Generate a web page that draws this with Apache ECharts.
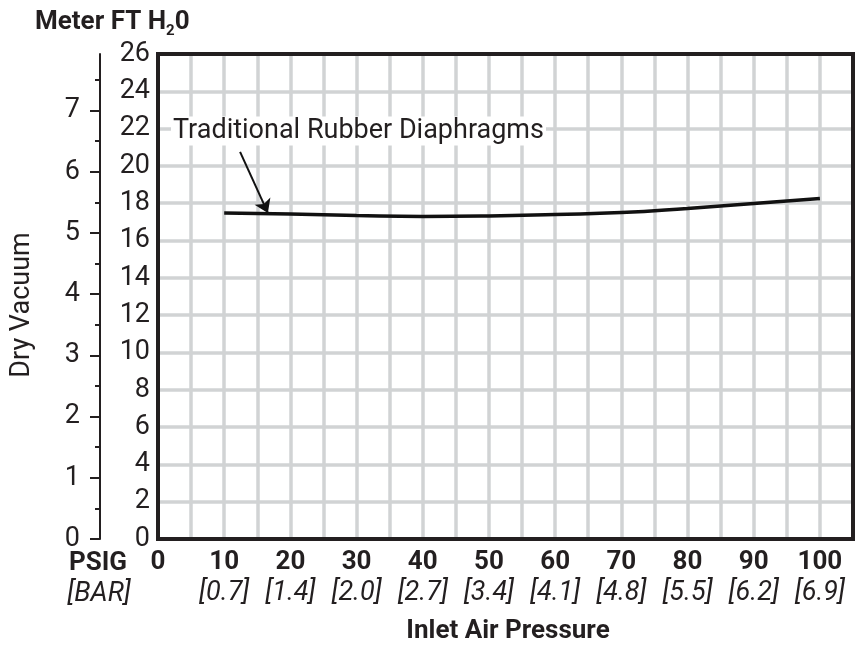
<!DOCTYPE html>
<html>
<head>
<meta charset="utf-8">
<script src="https://cdn.jsdelivr.net/npm/echarts@6/dist/echarts.min.js"></script>
<style>
html,body{margin:0;padding:0;background:#fff;}
#chart{width:865px;height:645px;}
</style>
</head>
<body>
<div id="chart"></div>
<script>
// ---- data ----
const psigValues = [10, 20, 30, 40, 50, 60, 70, 80, 90, 100];
const dryVacuumFt = [17.48, 17.42, 17.34, 17.29, 17.32, 17.40, 17.50, 17.72, 17.98, 18.25];
const psigTicks = [0, 10, 20, 30, 40, 50, 60, 70, 80, 90, 100];
const barTicks = ['', '[0.7]', '[1.4]', '[2.0]', '[2.7]', '[3.4]', '[4.1]', '[4.8]', '[5.5]', '[6.2]', '[6.9]'];
const ftMin = 0, ftMax = 26, ftStep = 2;
const psigMin = 0, psigMax = 105, psigStep = 5;
const meterMajorTicks = [0, 1, 2, 3, 4, 5, 6, 7];
const meterMinorTicks = [0.5, 1.5, 2.5, 3.5, 4.5, 5.5, 6.5, 7.5];
const meterMax = ftMax * 0.3048;
const seriesName = 'Traditional Rubber Diaphragms';
const arrowFrom = [12.4, 20.75];
const arrowTo = [16.6, 17.48];

// ---- style ----
const FONT = 'Roboto, "DejaVu Sans Condensed", sans-serif';
const INK = '#231f20';
const GRIDC = '#d1d3d4';
const G = {left: 158, top: 54, width: 695, height: 485};

const chart = echarts.init(document.getElementById('chart'), null, {renderer: 'canvas'});

const grids = [0, 1, 2].map(i => Object.assign({
  show: i === 0, z: 10, borderColor: INK, borderWidth: 4,
  backgroundColor: 'transparent', containLabel: false, outerBoundsMode: 'none'
}, G));

const hiddenX = gi => ({gridIndex: gi, type: 'value', min: psigMin, max: psigMax, show: false});

const option = {
  animation: false,
  backgroundColor: '#fff',
  textStyle: {fontFamily: FONT, color: INK},
  grid: grids,
  xAxis: [
    {
      gridIndex: 0, type: 'value', min: psigMin, max: psigMax, interval: psigStep,
      axisLine: {show: false}, axisTick: {show: false},
      splitLine: {show: true, showMinLine: false, showMaxLine: false, lineStyle: {color: GRIDC, width: 3.5}},
      axisLabel: {
        show: true, margin: 8, hideOverlap: false, showMinLabel: true, showMaxLabel: true,
        formatter: v => {
          const i = psigTicks.indexOf(v);
          if (i < 0) return '';
          return '{a|' + v + '}\n{b|' + (barTicks[i] || ' ') + '}';
        },
        rich: {
          a: {fontFamily: FONT, fontWeight: 'bold', fontSize: 26, lineHeight: 31, color: INK},
          b: {fontFamily: FONT, fontStyle: 'italic', fontSize: 27, lineHeight: 31, color: INK}
        }
      }
    },
    hiddenX(1), hiddenX(2)
  ],
  yAxis: [
    {
      gridIndex: 0, type: 'value', min: ftMin, max: ftMax, interval: ftStep, position: 'left',
      axisLine: {show: false, onZero: false}, axisTick: {show: false},
      splitLine: {show: true, showMinLine: false, showMaxLine: false, lineStyle: {color: GRIDC, width: 3.5}},
      axisLabel: {show: true, margin: 8, fontFamily: FONT, fontSize: 27, color: INK, hideOverlap: false}
    },
    {
      gridIndex: 1, type: 'value', min: 0, max: meterMax, position: 'left', offset: 58,
      axisLine: {show: true, onZero: false, lineStyle: {color: INK, width: 2}},
      axisTick: {show: true, customValues: meterMajorTicks, length: 10, lineStyle: {color: INK, width: 2}},
      splitLine: {show: false},
      axisLabel: {show: true, customValues: meterMajorTicks, margin: 20, fontFamily: FONT, fontSize: 27, color: INK, hideOverlap: false}
    },
    {
      gridIndex: 2, type: 'value', min: 0, max: meterMax, position: 'left', offset: 58,
      axisLine: {show: false, onZero: false},
      axisTick: {show: true, customValues: meterMinorTicks, length: 5, lineStyle: {color: INK, width: 2}},
      splitLine: {show: false},
      axisLabel: {show: false}
    }
  ],
  series: [
    {
      name: seriesName,
      type: 'line',
      xAxisIndex: 0, yAxisIndex: 0,
      data: psigValues.map((x, i) => [x, dryVacuumFt[i]]),
      smooth: true,
      symbol: 'none',
      z: 5,
      lineStyle: {color: '#111', width: 3.5},
      markLine: {
        silent: true,
        symbol: ['none', 'arrow'],
        symbolSize: 13,
        label: {show: false},
        lineStyle: {color: '#111', width: 2, type: 'solid'},
        data: [[{coord: arrowFrom}, {coord: arrowTo}]]
      }
    }
  ],
  graphic: [
    {
      type: 'text', left: 35, top: 9, z: 20,
      style: {
        text: '{t|Meter FT H}{s|2}{t|0}',
        rich: {
          t: {fontFamily: FONT, fontWeight: 'bold', fontSize: 26, lineHeight: 30, verticalAlign: 'top', fill: INK},
          s: {fontFamily: FONT, fontWeight: 'bold', fontSize: 15, lineHeight: 12, verticalAlign: 'bottom', fill: INK}
        }
      }
    },
    {
      type: 'text', x: 98, y: 563, z: 20,
      style: {text: 'PSIG', fontFamily: FONT, fontWeight: 'bold', fontSize: 26, fill: INK, align: 'center', verticalAlign: 'middle'}
    },
    {
      type: 'text', x: 99, y: 594, z: 20,
      style: {text: '[BAR]', fontFamily: FONT, fontStyle: 'italic', fontSize: 27, fill: INK, align: 'center', verticalAlign: 'middle'}
    },
    {
      type: 'text', x: 508, y: 631, z: 20,
      style: {text: 'Inlet Air Pressure', fontFamily: FONT, fontWeight: 'bold', fontSize: 26, fill: INK, align: 'center', verticalAlign: 'middle'}
    },
    {
      type: 'text', x: 22, y: 305, rotation: Math.PI / 2, z: 20,
      style: {text: 'Dry Vacuum', fontFamily: FONT, fontSize: 27, fill: INK, align: 'center', verticalAlign: 'middle'}
    },
    {
      type: 'text', x: 171, y: 131, z: 20,
      style: {text: seriesName, fontFamily: FONT, fontSize: 27, fill: INK, align: 'left', verticalAlign: 'middle',
              backgroundColor: '#fff', padding: [1, 2, 1, 2]}
    }
  ]
};
chart.setOption(option);
</script>
</body>
</html>
